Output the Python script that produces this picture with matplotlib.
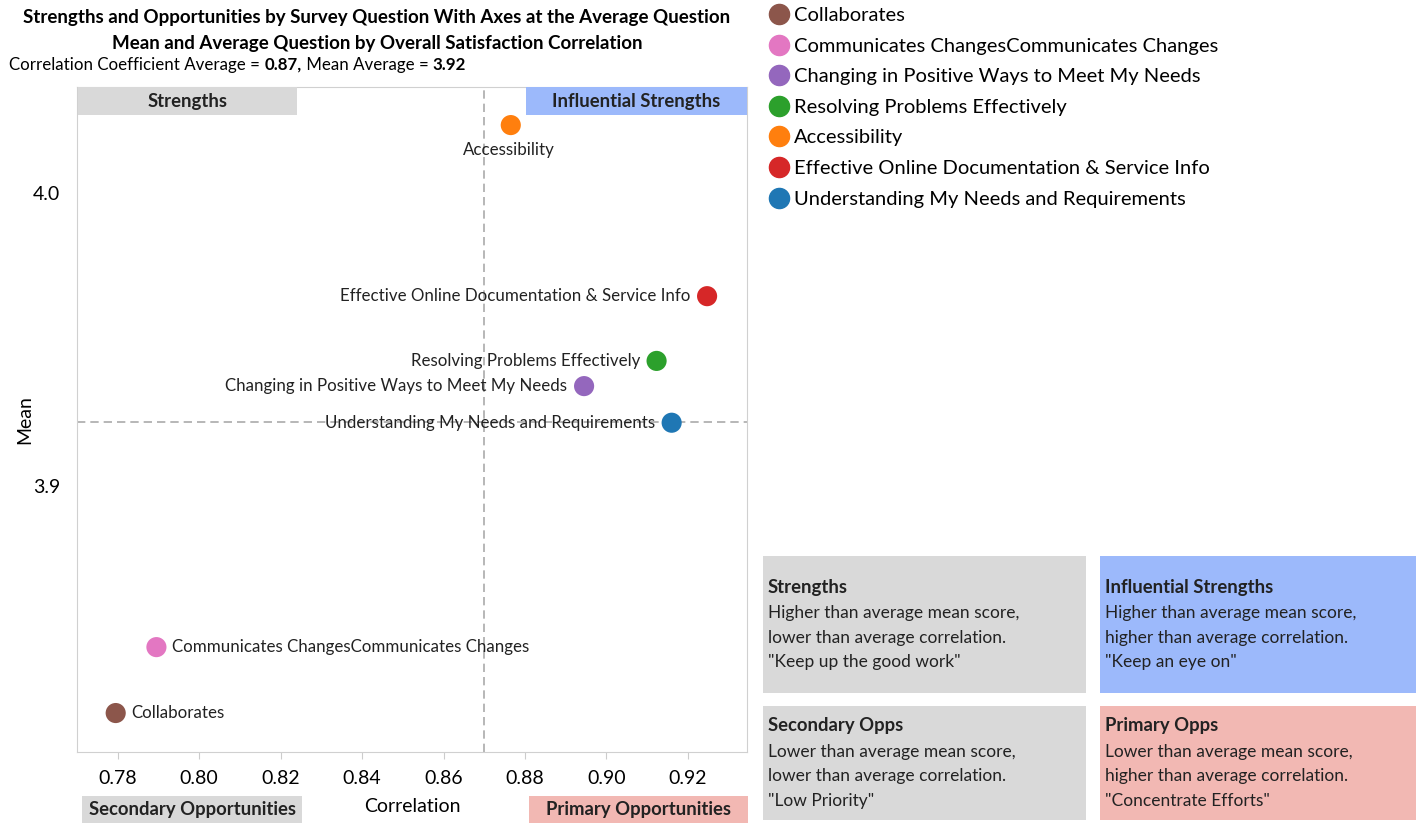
import matplotlib.pyplot as plt
from matplotlib.patches import Rectangle
from matplotlib.lines import Line2D

plt.rcParams['font.family'] = ['Lato', 'DejaVu Sans']

# Datos
preguntas = ['Collaborates', 'Communicates ChangesCommunicates Changes',
             'Changing in Positive Ways to Meet My Needs', 'Resolving Problems Effectively',
             'Accessibility', 'Effective Online Documentation & Service Info',
             'Understanding My Needs and Requirements']
correlacion = [0.7795, 0.7895, 0.8945, 0.9123, 0.8765, 0.9247, 0.9160]
media = [3.8225, 3.8450, 3.9341, 3.9427, 4.0232, 3.9648, 3.9216]
colores = ['#8c564b', '#e377c2', '#9467bd', '#2ca02c', '#ff7f0e', '#d62728', '#1f77b4']
posicion = ['right', 'right', 'left', 'left', 'below', 'left', 'left']
corr_media = 0.87
media_media = 3.922

W, H = 1418, 823
fig = plt.figure(figsize=(W / 100, H / 100), dpi=100)

def px(x, y):
    return x / W, 1 - y / H

ax = fig.add_axes([77 / W, 1 - 752 / H, (747 - 77) / W, (752 - 87) / H])
ax.set_xlim(0.770, 0.9345)
ax.set_ylim(3.8092, 4.0362)

# Líneas de promedio
ax.axvline(corr_media, color='#aaaaaa', ls=(0, (5, 3)), lw=1.2, zorder=1)
ax.axhline(media_media, color='#aaaaaa', ls=(0, (5, 3)), lw=1.2, zorder=1)

for x, y, c, n, p in zip(correlacion, media, colores, preguntas, posicion):
    ax.scatter(x, y, s=210, color=c, zorder=3, edgecolors='none')
    if p == 'right':
        ax.annotate(n, (x, y), xytext=(11, 0), textcoords='offset points',
                    ha='left', va='center', fontsize=12.2, color='#222222')
    elif p == 'left':
        ax.annotate(n, (x, y), xytext=(-12, 0), textcoords='offset points',
                    ha='right', va='center', fontsize=12.2, color='#222222')
    else:
        ax.annotate(n, (x, y), xytext=(-1, -12), textcoords='offset points',
                    ha='center', va='top', fontsize=12.2, color='#222222')

ax.set_xticks([0.78, 0.80, 0.82, 0.84, 0.86, 0.88, 0.90, 0.92])
ax.set_xticklabels(['%.2f' % v for v in ax.get_xticks()])
ax.set_yticks([3.9, 4.0])
ax.set_yticklabels(['3.9', '4.0'])
ax.tick_params(axis='x', length=5, color='#cccccc', labelsize=14, pad=8)
ax.tick_params(axis='y', length=0, labelsize=14, pad=12)
for s in ax.spines.values():
    s.set_color('#d0d0d0')
ax.set_xlabel('Correlation', fontsize=14, labelpad=8)
ax.set_ylabel('Mean', fontsize=14, labelpad=0)

# Título
fig.text(*px(377, 17), 'Strengths and Opportunities by Survey Question With Axes at the Average Question',
         ha='center', va='center', fontsize=13.5, fontweight='bold')
fig.text(*px(377, 43), 'Mean and Average Question by Overall Satisfaction Correlation',
         ha='center', va='center', fontsize=13.5, fontweight='bold')
partes = [('0.87,', 'bold'), (' Mean Average = ', 'normal'), ('3.92', 'bold')]
prev = fig.text(*px(9, 65), 'Correlation Coefficient Average = ', ha='left', va='center',
                fontsize=12.2)
for txt, w in partes:
    prev = ax.annotate(txt, xy=(1, 0), xycoords=prev, va='bottom', ha='left',
                       fontsize=12.2, fontweight=w, annotation_clip=False)

# Etiquetas de cuadrantes
cajas = [(78, 87, 219, 28, '#d9d9d9', 'Strengths'),
         (526, 87, 221, 28, '#9cb9fb', 'Influential Strengths'),
         (82, 796, 220, 30, '#d9d9d9', 'Secondary Opportunities'),
         (529, 796, 219, 30, '#f2b8b3', 'Primary Opportunities')]
for x0, y0, w, h, c, n in cajas:
    fig.patches.append(Rectangle(px(x0, y0 + h), w / W, h / H, transform=fig.transFigure,
                                 facecolor=c, edgecolor='none', zorder=5))
    fig.text(*px(x0 + w / 2, y0 + 14), n, ha='center', va='center', fontsize=13.3,
             fontweight='bold', color='#222222', zorder=6)

# Leyenda
handles = [Line2D([], [], marker='o', ls='none', color=c, markersize=14.5) for c in colores]
fig.legend(handles, preguntas, loc='upper left', bbox_to_anchor=px(767, 7), frameon=False,
           fontsize=14.5, handlelength=1.2, handletextpad=0.15, labelspacing=0.67,
           borderpad=0, borderaxespad=0)

# Cuadros explicativos
notas = [(763, 556, 323, 137, '#d9d9d9', 'Strengths',
          ['Higher than average mean score,', 'lower than average correlation.', '"Keep up the good work"']),
         (1100, 556, 316, 137, '#9cb9fb', 'Influential Strengths',
          ['Higher than average mean score,', 'higher than average correlation.', '"Keep an eye on"']),
         (763, 706, 323, 114, '#d9d9d9', 'Secondary Opps',
          ['Lower than average mean score,', 'lower than average correlation.', '"Low Priority"']),
         (1100, 706, 316, 114, '#f2b8b3', 'Primary Opps',
          ['Lower than average mean score,', 'higher than average correlation.', '"Concentrate Efforts"'])]
for x0, y0, w, h, c, n, lineas in notas:
    fig.patches.append(Rectangle(px(x0, y0 + h), w / W, h / H, transform=fig.transFigure,
                                 facecolor=c, edgecolor='none'))
    top = y0 + 31 if h > 120 else y0 + 20
    fig.text(*px(x0 + 5, top), n, ha='left', va='center', fontsize=13.3,
             fontweight='bold', color='#222222')
    for i, l in enumerate(lineas):
        fig.text(*px(x0 + 5, top + 26 + i * 24.5), l, ha='left', va='center',
                 fontsize=12.5, color='#222222')

fig.savefig('out.png', dpi=100)
